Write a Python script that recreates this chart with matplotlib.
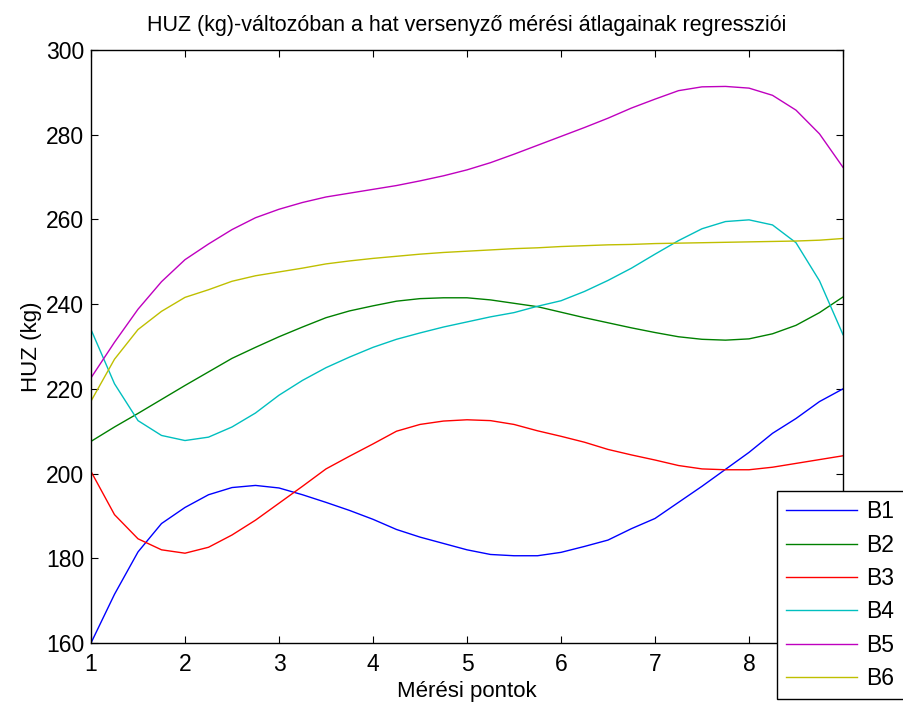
import numpy as np
import matplotlib
matplotlib.use('Agg')
import matplotlib.pyplot as plt

plt.rcParams['font.family'] = ['Liberation Sans', 'DejaVu Sans']

x = np.arange(1, 9.01, 0.25)

b1 = [160.0, 171.5, 181.5, 188.2, 192.0, 195.0, 196.7, 197.2, 196.6, 195.0, 193.2,
      191.3, 189.2, 186.8, 185.0, 183.5, 182.0, 180.9, 180.6, 180.6, 181.4, 182.8,
      184.3, 187.0, 189.4, 193.2, 197.0, 201.0, 205.0, 209.5, 213.0, 217.0, 220.0]
b2 = [207.6, 211.0, 214.2, 217.5, 220.8, 224.0, 227.2, 229.8, 232.3, 234.6, 236.8,
      238.4, 239.6, 240.7, 241.3, 241.5, 241.5, 241.0, 240.2, 239.4, 238.1, 236.8,
      235.6, 234.4, 233.3, 232.3, 231.7, 231.5, 231.8, 233.0, 235.0, 238.0, 241.7]
b3 = [200.5, 190.3, 184.6, 182.0, 181.2, 182.6, 185.5, 189.0, 193.0, 197.0, 201.1,
      204.1, 207.0, 210.0, 211.6, 212.4, 212.7, 212.5, 211.6, 210.1, 208.8, 207.4,
      205.7, 204.4, 203.2, 201.9, 201.1, 200.9, 200.9, 201.5, 202.4, 203.3, 204.2]
b4 = [234.0, 221.2, 212.5, 209.0, 207.8, 208.6, 211.0, 214.3, 218.5, 222.0, 225.0,
      227.5, 229.8, 231.7, 233.2, 234.6, 235.8, 237.0, 238.0, 239.5, 240.8, 243.0,
      245.6, 248.5, 251.8, 255.0, 257.8, 259.5, 259.9, 258.7, 254.5, 245.5, 232.8]
b5 = [222.6, 231.0, 238.8, 245.3, 250.5, 254.2, 257.6, 260.4, 262.4, 264.0, 265.3,
      266.2, 267.1, 268.0, 269.1, 270.3, 271.7, 273.4, 275.4, 277.5, 279.6, 281.7,
      283.9, 286.3, 288.4, 290.4, 291.3, 291.4, 291.0, 289.3, 285.8, 280.2, 272.3]
b6 = [217.1, 227.0, 234.0, 238.3, 241.6, 243.4, 245.4, 246.7, 247.6, 248.5, 249.5,
      250.2, 250.8, 251.3, 251.8, 252.2, 252.5, 252.8, 253.1, 253.3, 253.6, 253.8,
      254.0, 254.1, 254.3, 254.4, 254.5, 254.6, 254.7, 254.8, 254.9, 255.1, 255.5]

series = [b1, b2, b3, b4, b5, b6]
labels = ['B1', 'B2', 'B3', 'B4', 'B5', 'B6']
# matlab default color order
colors = ['#0000ff', '#008000', '#ff0000', '#00bfbf', '#bf00bf', '#bfbf00']

fig = plt.figure(figsize=(9.04, 7.02), dpi=100)
ax = fig.add_axes([91 / 904, 59 / 702, 752 / 904, 593 / 702])

for y, lab, col in zip(series, labels, colors):
    ax.plot(x, y, color=col, lw=1.0, label=lab)

ax.set_xlim(1, 9)
ax.set_ylim(160, 300)
ax.set_xticks(range(1, 10))
ax.set_yticks(range(160, 301, 20))
ax.tick_params(direction='in', length=5, width=0.8, top=True, right=True,
               labelsize=16.5)
ax.tick_params(axis='x', pad=7)
ax.tick_params(axis='y', pad=5)
for s in ax.spines.values():
    s.set_linewidth(1.0)

ax.set_title('HUZ (kg)-változóban a hat versenyző mérési átlagainak regressziói',
             fontsize=15.5, pad=14)
ax.set_xlabel('Mérési pontok', fontsize=16, labelpad=4)
ax.set_ylabel('HUZ (kg)', fontsize=16, labelpad=3)

leg = ax.legend(loc='lower left', bbox_to_anchor=(777 / 904, 3 / 702),
                bbox_transform=fig.transFigure, fontsize=16.5, fancybox=False,
                framealpha=1, edgecolor='black', handlelength=3.1,
                handletextpad=0.4, labelspacing=0.45, borderpad=0.4,
                borderaxespad=0)
leg.get_frame().set_linewidth(1.0)

fig.savefig('out.png', dpi=100)
